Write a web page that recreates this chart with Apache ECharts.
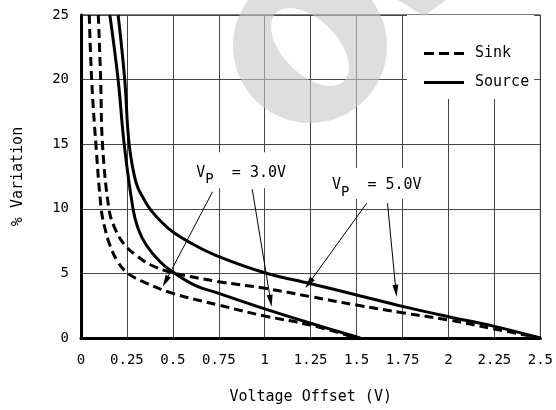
<!DOCTYPE html>
<html lang="en">
<head>
    <meta charset="UTF-8">
    <title>% Variation vs Voltage Offset</title>
    <script src="https://cdn.jsdelivr.net/npm/echarts@6/dist/echarts.min.js"></script>
    <style>html, body { margin: 0; padding: 0; background: #fff; }</style>
</head>
<body>
<div id="main" style="width:556px;height:410px;"></div>
<script>
    // tick labels
    var xTickLabels = ['0', '0.25', '0.5', '0.75', '1', '1.25', '1.5', '1.75', '2', '2.25', '2.5'];
    var yTickLabels = ['0', '5', '10', '15', '20', '25'];

    // [voltage offset (V), % variation]
    var sink30 = [[0.045, 25], [0.058, 20], [0.081, 15], [0.11, 10], [0.13, 8.5], [0.157, 7.2], [0.2, 5.9],
        [0.256, 5.0], [0.337, 4.36], [0.5, 3.45], [0.75, 2.55], [1.0, 1.7], [1.25, 1.0], [1.5, 0]];
    var sink50 = [[0.094, 25], [0.107, 20], [0.117, 15], [0.152, 10], [0.184, 8.5], [0.238, 7.2], [0.31, 6.3],
        [0.38, 5.65], [0.5, 5.05], [0.75, 4.36], [1.0, 3.85], [1.25, 3.2], [1.5, 2.55], [1.75, 1.95],
        [2.0, 1.4], [2.25, 0.7], [2.5, 0]];
    var source30 = [[0.157, 25], [0.202, 20], [0.235, 15], [0.283, 10], [0.31, 8.5], [0.355, 7.2], [0.43, 5.9],
        [0.5, 5.1], [0.617, 4.1], [0.75, 3.45], [1.0, 2.25], [1.25, 1.14], [1.52, 0]];
    var source50 = [[0.202, 25], [0.238, 20], [0.262, 15], [0.30, 12], [0.34, 10.8], [0.38, 9.9], [0.437, 9.0],
        [0.5, 8.2], [0.617, 7.2], [0.75, 6.3], [1.0, 5.05], [1.25, 4.2], [1.5, 3.33], [1.75, 2.45],
        [2.0, 1.65], [2.25, 0.9], [2.5, 0]];

    // callout arrows: [from, to]
    var arrows30 = [[[0.716, 11.32], [0.46, 4.38]], [[0.932, 11.51], [1.032, 2.88]]];
    var arrows50 = [[[1.555, 10.43], [1.24, 4.23]], [[1.668, 10.43], [1.714, 3.66]]];

    var font = 'DejaVu Sans Mono';
    var chart = echarts.init(document.getElementById('main'));

    function curve(name, data, dashed) {
        return {
            name: name,
            type: 'line',
            data: data,
            smooth: 0.4,
            symbol: 'none',
            lineStyle: {color: '#000', width: 3, type: dashed ? [9, 5] : 'solid'},
            itemStyle: {color: '#000'},
            animation: false,
            z: 3
        };
    }

    function callout(text, pos, pad) {
        return {
            coord: pos,
            symbol: 'rect',
            symbolSize: 0,
            label: {
                show: true,
                position: 'right',
                distance: 0,
                formatter: text,
                backgroundColor: '#fff',
                padding: pad,
                rich: {
                    a: {fontFamily: font, fontSize: 15, color: '#000', lineHeight: 18, verticalAlign: 'top'},
                    b: {fontFamily: font, fontSize: 14, color: '#000', lineHeight: 18, verticalAlign: 'top', padding: [7, 0, 0, 0]}
                }
            }
        };
    }

    var arrowLines = arrows30.concat(arrows50).map(function (a) {
        return [{coord: a[0]}, {coord: a[1]}];
    });

    // watermark ring: outer circle, then the tilted elliptical hole traced the other way
    function ringPoints(cx, cy, r, hx, hy, rx, ry, rot) {
        var pts = [], i, t, n = 72;
        for (i = 0; i <= n; i++) {
            t = i / n * Math.PI * 2;
            pts.push([cx + r * Math.cos(t), cy + r * Math.sin(t)]);
        }
        for (i = 0; i <= n; i++) {
            t = -i / n * Math.PI * 2;
            var ex = rx * Math.cos(t), ey = ry * Math.sin(t);
            pts.push([hx + ex * Math.cos(rot) - ey * Math.sin(rot), hy + ex * Math.sin(rot) + ey * Math.cos(rot)]);
        }
        return pts;
    }

    var option = {
        animation: false,
        grid: {left: 81, right: 13, top: 15, bottom: 72, show: true, borderColor: '#000', borderWidth: 1},
        legend: {
            data: [
                {name: 'Sink', icon: 'path://M0,0h10v3h-10z M15,0h10v3h-10z M30,0h10v3h-10z'},
                {name: 'Source', icon: 'path://M0,0h40v3h-40z'}
            ],
            orient: 'vertical',
            left: 407,
            top: 15,
            padding: [31, 5, 9, 17],
            itemGap: 14,
            itemWidth: 40,
            itemHeight: 14,
            backgroundColor: '#fff',
            selectedMode: false,
            itemStyle: {color: '#000'},
            textStyle: {fontFamily: font, fontSize: 15, color: '#000', padding: [0, 0, 0, 6]}
        },
        xAxis: {
            type: 'value',
            min: 0,
            max: 2.5,
            interval: 0.25,
            name: 'Voltage Offset (V)',
            nameLocation: 'middle',
            nameGap: 52,
            nameTextStyle: {fontFamily: font, fontSize: 15, color: '#000'},
            axisLine: {lineStyle: {color: '#000', width: 3}},
            axisTick: {show: false},
            axisLabel: {
                margin: 15,
                fontFamily: font,
                fontSize: 14,
                color: '#000',
                formatter: function (v) { return xTickLabels[Math.round(v / 0.25)]; }
            },
            splitLine: {show: true, lineStyle: {color: '#444', width: 1}}
        },
        yAxis: {
            type: 'value',
            min: 0,
            max: 25,
            interval: 5,
            name: '% Variation',
            nameLocation: 'middle',
            nameGap: 55,
            nameTextStyle: {fontFamily: font, fontSize: 15, color: '#000'},
            axisLine: {show: true, lineStyle: {color: '#000', width: 3}},
            axisTick: {show: false},
            axisLabel: {
                margin: 12,
                fontFamily: font,
                fontSize: 14,
                color: '#000',
                formatter: function (v) { return yTickLabels[Math.round(v / 5)]; }
            },
            splitLine: {show: true, lineStyle: {color: '#444', width: 1}}
        },
        series: [
            curve('Sink', sink30, true),
            curve('Sink', sink50, true),
            curve('Source', source30, false),
            curve('Source', source50, false),
            {
                name: 'callouts',
                type: 'line',
                data: [],
                animation: false,
                markLine: {
                    silent: true,
                    animation: false,
                    symbol: ['none', 'triangle'],
                    symbolSize: [6, 12],
                    label: {show: false},
                    lineStyle: {color: '#000', width: 1, type: 'solid'},
                    data: arrowLines
                },
                markPoint: {
                    silent: true,
                    animation: false,
                    data: [
                        callout('{a|V}{b|P}{a|  = 3.0V}', [0.595, 12.98], [13, 6, 5, 6]),
                        callout('{a|V}{b|P}{a|  = 5.0V}', [1.333, 11.96], [10, 6, 3, 6])
                    ]
                }
            }
        ],
        graphic: [
            {
                type: 'polygon',
                silent: true,
                z: 100,
                shape: {points: ringPoints(310, 46, 77, 310, 47, 48, 27, Math.PI / 4)},
                style: {fill: 'rgba(200,200,200,0.6)'}
            },
            {
                type: 'polygon',
                silent: true,
                z: 100,
                shape: {points: [[398, 0], [446, 0], [424, 16]]},
                style: {fill: 'rgba(200,200,200,0.6)'}
            }
        ]
    };
    chart.setOption(option);
</script>
</body>
</html>
